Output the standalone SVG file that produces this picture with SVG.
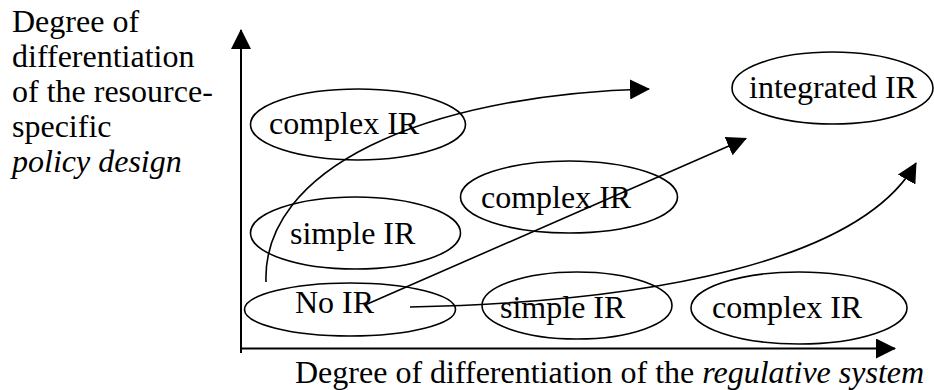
<svg xmlns="http://www.w3.org/2000/svg" width="934" height="390" viewBox="0 0 934 390">
<style>
.t{font-family:"Liberation Serif","Times New Roman",serif;font-size:32px;fill:#000}
.i{font-style:italic}
.n ellipse{fill:none;stroke:#000;stroke-width:1.6}
.c path,.c line{fill:none;stroke:#000;stroke-width:1.6}
.ax{stroke:#000;stroke-width:2;fill:none}
</style>
<defs>
<marker id="ah" markerUnits="userSpaceOnUse" markerWidth="20" markerHeight="20" refX="19" refY="10" orient="auto">
<path d="M0,0 L20,10 L0,20 z" fill="#000"/>
</marker>
</defs>
<rect width="934" height="390" fill="#fff"/>
<g id="y-label" class="t">
<text x="12" y="32">Degree of</text>
<text x="12" y="67">differentiation</text>
<text x="12" y="101.5">of the resource-</text>
<text x="12" y="136.5">specific</text>
<text x="12" y="171.5" class="i">policy design</text>
</g>
<g id="x-label" class="t">
<text x="295" y="383">Degree of differentiation of the <tspan class="i">regulative system</tspan></text>
</g>
<g id="axes">
<line class="ax" x1="241" y1="353" x2="241" y2="30" marker-end="url(#ah)"/>
<line class="ax" x1="241" y1="348.5" x2="895" y2="348.5" marker-end="url(#ah)"/>
</g>
<g id="node-complex-top" class="n"><ellipse cx="358" cy="124.5" rx="107.5" ry="35.5"/><text class="t" x="269" y="134">complex IR</text></g>
<g id="node-simple-mid" class="n"><ellipse cx="355.5" cy="233" rx="105" ry="36"/><text class="t" x="290" y="244">simple IR</text></g>
<g id="node-complex-mid" class="n"><ellipse cx="569" cy="197" rx="108.5" ry="36"/><text class="t" x="481" y="208">complex IR</text></g>
<g id="node-integrated" class="n"><ellipse cx="832.5" cy="88" rx="100.5" ry="36"/><text class="t" x="749" y="97.5">integrated IR</text></g>
<g id="node-noir" class="n"><ellipse cx="350" cy="309.5" rx="105.5" ry="26.5"/><text class="t" x="295" y="313">No IR</text></g>
<g id="node-simple-bottom" class="n"><ellipse cx="577" cy="305.5" rx="95" ry="33.5"/><text class="t" x="500" y="318">simple IR</text></g>
<g id="node-complex-bottom" class="n"><ellipse cx="799" cy="308" rx="108" ry="36"/><text class="t" x="712" y="318">complex IR</text></g>
<g id="connectors" class="c">
<path d="M266,282 C262,170 420,95 649,89" marker-end="url(#ah)"/>
<line x1="365" y1="305" x2="746" y2="138.5" marker-end="url(#ah)"/>
<path d="M410,307 C650,302 860,262 916,163" marker-end="url(#ah)"/>
</g>
</svg>
